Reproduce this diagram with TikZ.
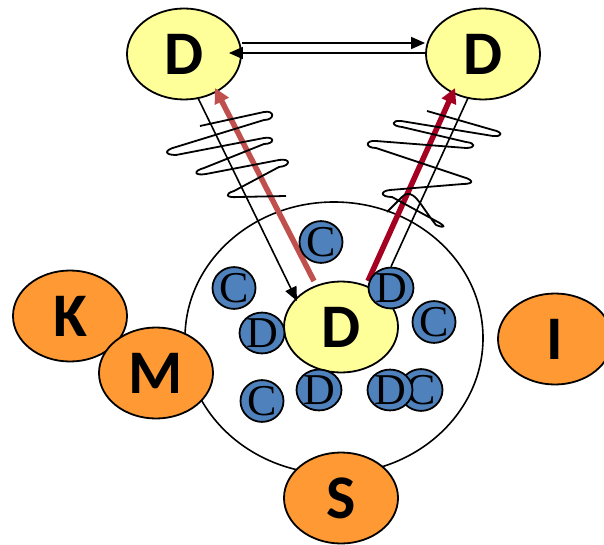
\documentclass[tikz,border=0pt]{standalone}
\usepackage{fontspec}
\usetikzlibrary{shapes.geometric,arrows.meta}
\newfontfamily\bigfont{Carlito}
\newfontfamily\smallfont{Liberation Serif}
\definecolor{yel}{HTML}{FFFF99}
\definecolor{blu}{HTML}{4F81BD}
\definecolor{org}{HTML}{FF9933}
\definecolor{dred}{HTML}{A50021}
\definecolor{lred}{HTML}{C0504D}
\begin{document}
\begin{tikzpicture}[x=1pt,y=-1pt,
  bigell/.style={ellipse,draw=black,line width=1.8pt,minimum width=114pt,minimum height=91pt,inner sep=0pt,
    font=\bigfont\bfseries\fontsize{62}{62}\selectfont},
  yellowell/.style={bigell,fill=yel},
  orangeell/.style={bigell,fill=org},
  smallell/.style={ellipse,draw=black,line width=1.8pt,fill=blu,minimum width=43pt,minimum height=35pt,inner sep=0pt,
    font=\smallfont\fontsize{44}{44}\selectfont},
  thinarrow/.style={line width=1.6pt,-{Triangle[length=14pt,width=12pt]}},
  thinline/.style={line width=1.6pt},
  redarrow/.style={line width=5.5pt,-{Triangle[length=15pt,width=15pt]}},
  coil/.style={line width=1.8pt,line join=round}
]
\clip (0,0) rectangle (604,545);
\fill[white] (0,0) rectangle (604,545);

% big cell
\node[ellipse,draw=black,line width=1.6pt,minimum width=298pt,minimum height=272pt,inner sep=0pt] (cell) at (334,338) {};

% top nodes
\node[yellowell] (tl) at (184,54) {D};
\node[yellowell] (tr) at (483,54) {D};

% central node
\node[yellowell] (dc) at (341,327) {D};

% top arrows
\draw[thinarrow] ([yshift=11pt]tl.east) -- ([yshift=11pt]tr.west);
\draw[thinarrow] ([yshift=1pt]tr.west) -- ([xshift=-13pt,yshift=1pt]tl.east);

% connector end points
\coordinate (blS) at (198,98);
\coordinate (blE) at (297,301);
\coordinate (brS) at (468,98);
\coordinate (lrS) at (314,281);
\coordinate (lrE) at (215,88);
\coordinate (drS) at (368,281);
\coordinate (drE) at (455,88);

% red arrows
\draw[redarrow,lred] (lrS) -- (lrE);
\draw[redarrow,dred] (drS) -- (drE);

% black connectors
\draw[thinarrow] (blS) -- (blE);

% coils
\draw[coil] (200,126) -- (264,112) .. controls (275,110) and (275,120) .. (264,120)
  -- (176,147) .. controls (164,150) and (164,155) .. (176,155)
  -- (264,138) .. controls (275,136) and (275,144) .. (264,144)
  -- (204,168) .. controls (193,171) and (194,176) .. (206,174)
  -- (279,160) .. controls (291,158) and (291,166) .. (279,167)
  -- (234,191) .. controls (224,194) and (226,198) .. (238,197)
  -- (286,196);
\draw[coil] (427,111) -- (493,130) .. controls (503,132) and (503,137) .. (493,136)
  -- (401,121) .. controls (391,120) and (391,126) .. (402,127)
  -- (466,142) .. controls (476,143) and (476,148) .. (466,148)
  -- (376,141) .. controls (365,140) and (365,148) .. (376,148)
  -- (463,177) .. controls (474,180) and (474,184) .. (463,184)
  -- (390,190) .. controls (380,191) and (380,197) .. (392,197)
  -- (436,221) .. controls (446,226) and (446,229) .. (436,225)
  .. controls (420,205) and (413,186) .. (402,197) -- (387,212);

% small molecules
\node[smallell] (c1) at (321,242) {C};
\node[smallell] (c2) at (234,288) {C};
\node[smallell] (d1) at (391,288) {D};
\node[smallell] (d2) at (262,333) {D};
\node[smallell] (c3) at (434,322) {C};
\node[smallell] (c4) at (262,401) {C};
\node[smallell] (d3) at (319,390) {D};
\node[smallell] (c5) at (421,390) {C};
\node[smallell] (d4) at (390,390) {D};

\draw[thinline] (brS) -- (d1.north);

% orange nodes
\node[orangeell] (k) at (70,316) {K};
\node[orangeell] (m) at (156,373) {M};
\node[orangeell] (i) at (555,339) {I};
\node[orangeell] (s) at (341,498) {S};
\end{tikzpicture}
\end{document}
